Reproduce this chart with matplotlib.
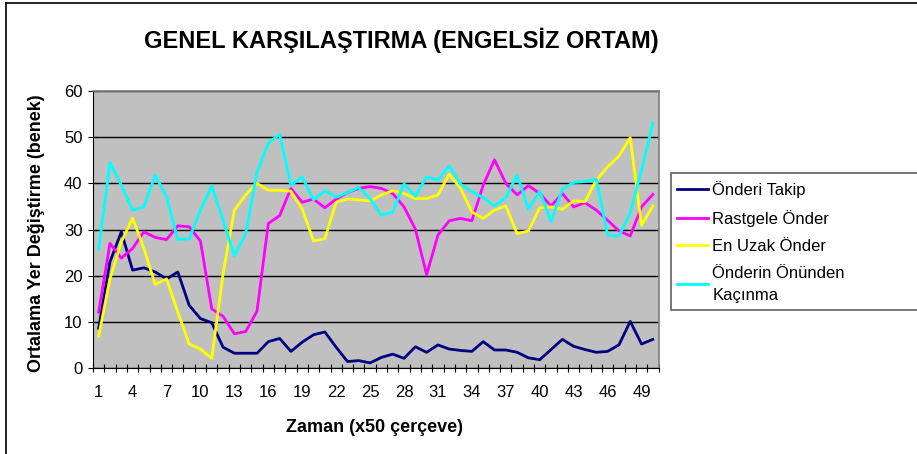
import matplotlib
matplotlib.use("Agg")
import matplotlib.pyplot as plt
from matplotlib.lines import Line2D
from matplotlib.patches import Rectangle
import numpy as np

plt.rcParams['font.family'] = ['Liberation Sans', 'DejaVu Sans']

zaman = list(range(1, 51))

onderi_takip = [8.6, 23.0, 29.5, 21.2, 21.7, 20.8, 19.3, 20.8, 13.6, 10.7,
                9.8, 4.5, 3.2, 3.2, 3.2, 5.7, 6.4, 3.6, 5.6, 7.2,
                7.8, 4.5, 1.4, 1.6, 1.1, 2.3, 3.0, 2.1, 4.6, 3.4,
                5.0, 4.1, 3.8, 3.6, 5.7, 3.9, 3.9, 3.4, 2.2, 1.8,
                4.0, 6.2, 4.7, 4.0, 3.4, 3.6, 5.0, 10.1, 5.2, 6.2]

rastgele_onder = [12.1, 27.0, 23.8, 25.9, 29.5, 28.3, 27.8, 30.8, 30.6, 27.5,
                  12.8, 11.2, 7.4, 7.9, 12.3, 31.3, 33.0, 38.9, 35.9, 36.6,
                  34.7, 36.6, 38.0, 38.9, 39.3, 38.9, 37.8, 34.9, 30.1, 20.2,
                  28.8, 31.9, 32.4, 31.9, 39.6, 45.1, 40.0, 37.5, 39.5, 37.8,
                  35.1, 37.8, 34.9, 35.8, 34.2, 32.0, 29.7, 28.6, 34.9, 37.6]

en_uzak_onder = [6.9, 19.3, 27.3, 32.5, 25.9, 18.1, 19.3, 12.1, 5.2, 4.1,
                 2.1, 20.4, 34.2, 37.5, 40.0, 38.5, 38.5, 38.3, 34.4, 27.5,
                 28.0, 35.9, 36.6, 36.4, 36.2, 37.5, 38.4, 37.8, 36.7, 36.7,
                 37.5, 42.0, 38.9, 33.8, 32.4, 34.2, 35.1, 29.1, 29.7, 34.7,
                 34.9, 34.4, 36.2, 36.0, 40.7, 43.6, 45.9, 49.9, 30.9, 35.1]

onunden_kacinma = [25.7, 44.5, 39.6, 34.2, 34.9, 41.8, 37.1, 27.8, 28.0, 34.2,
                   39.5, 32.0, 24.3, 29.1, 42.4, 48.7, 50.6, 39.6, 41.4, 36.4,
                   38.4, 37.0, 38.0, 39.1, 36.7, 33.1, 33.8, 39.9, 37.2, 41.4,
                   40.7, 43.8, 39.8, 38.2, 36.9, 35.1, 36.9, 41.8, 34.4, 38.3,
                   31.7, 38.7, 40.2, 40.4, 40.9, 28.8, 28.6, 33.6, 42.9, 53.0]

series_names = ['Önderi Takip', 'Rastgele Önder', 'En Uzak Önder',
                'Önderin Önünden\nKaçınma']
series_colors = ['#000080', '#FF00FF', '#FFFF00', '#00FFFF']
yticks = [0, 10, 20, 30, 40, 50, 60]
xtick_labels = list(range(1, 51, 3))

W, H = 917, 454
fig = plt.figure(figsize=(W / 100, H / 100), dpi=100)

# outer chart frame (top and left visible)
fig.add_artist(Line2D([6 / W, 6 / W], [0, 1 - 3 / H], transform=fig.transFigure,
                      color='black', lw=1.2))
fig.add_artist(Line2D([6 / W, 1], [1 - 3 / H, 1 - 3 / H], transform=fig.transFigure,
                      color='black', lw=1.2))

left, right, top, bottom = 93, 658.5, 91, 368
ax = fig.add_axes([left / W, 1 - bottom / H, (right - left) / W, (bottom - top) / H])
ax.set_facecolor('#C0C0C0')

handles = []
for vals, name, col in zip([onderi_takip, rastgele_onder, en_uzak_onder, onunden_kacinma],
                           series_names, series_colors):
    h, = ax.plot(zaman, vals, color=col, lw=2, label=name, zorder=3)
    handles.append(h)

ax.set_xlim(0.5, 50.5)
ax.set_ylim(0, 60)
ax.set_yticks(yticks)
ax.yaxis.grid(True, color='black', lw=1)
ax.set_axisbelow(True)

ax.set_xticks(xtick_labels)
ax.set_xticklabels([str(v) for v in xtick_labels])
ax.set_xticks(np.arange(0.5, 51, 1), minor=True)
ax.tick_params(axis='x', which='major', length=0, labelsize=12, pad=12)
ax.tick_params(axis='x', which='minor', direction='inout', length=6, width=0.8)
ax.tick_params(axis='y', which='major', direction='inout', length=7, width=0.8,
               labelsize=12, pad=4)

for s in ax.spines.values():
    s.set_color('#808080')
    s.set_linewidth(1.2)
ax.spines['left'].set_color('black')
ax.spines['bottom'].set_color('black')
ax.spines['left'].set_linewidth(0.8)
ax.spines['bottom'].set_linewidth(0.8)

fig.text(401 / W, 1 - 40 / H, 'GENEL KARŞILAŞTIRMA (ENGELSİZ ORTAM)', ha='center',
         va='center', fontsize=17, fontweight='bold')
fig.text(375 / W, 1 - 428 / H, 'Zaman (x50 çerçeve)', ha='center', va='center',
         fontsize=13, fontweight='bold')
fig.text(37 / W, 1 - 233 / H, 'Ortalama Yer Değiştirme (benek)', ha='center',
         va='center', rotation=90, fontsize=13, fontweight='bold')

# legend box
fig.add_artist(Rectangle((671 / W, 1 - 310 / H), (W - 671 + 10) / W, (310 - 173) / H,
                         transform=fig.transFigure, facecolor='white',
                         edgecolor='#606060', lw=1.2, zorder=5))
leg = fig.legend(handles=handles, labels=series_names, loc='upper left',
                 bbox_to_anchor=(675 / W, 1 - 179 / H),
                 bbox_transform=fig.transFigure, frameon=False, fontsize=12,
                 handlelength=1.85, handletextpad=0.3, labelspacing=0.72,
                 borderpad=0.1, borderaxespad=0)
for t in leg.get_texts():
    t.set_linespacing(1.6)
    t.set_multialignment('left')
leg.set_zorder(10)

fig.savefig('out.png', dpi=100)
